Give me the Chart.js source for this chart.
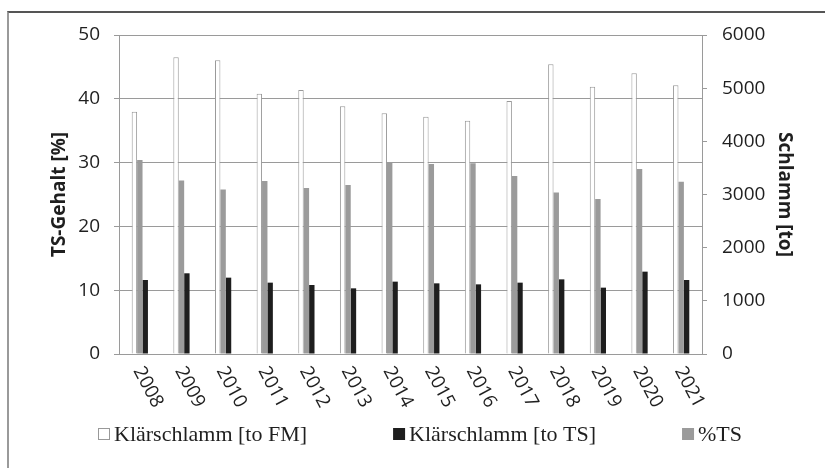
<!DOCTYPE html>
<html>
<head>
<meta charset="utf-8">
<script src="https://cdn.jsdelivr.net/npm/chart.js@4/dist/chart.umd.min.js"></script>
<style>
  html, body { margin: 0; padding: 0; background: #fff; }
  #wrap { position: relative; width: 825px; height: 468px; overflow: hidden; }
  #frame { position: absolute; left: 7px; top: 11px; width: 900px; height: 600px;
           border-top: 2px solid #555; border-left: 2px solid #9a9a9a; }
  canvas { position: absolute; left: 0; top: 0; }
</style>
</head>
<body>
<div id="wrap">
  <div id="frame"></div>
  <canvas id="c" width="825" height="468"></canvas>
</div>
<script>
// Jahre
const years = ['2008', '2009', '2010', '2011', '2012', '2013', '2014',
               '2015', '2016', '2017', '2018', '2019', '2020', '2021'];

// Klärschlamm Frischmasse [to]
const sludgeFM = [4557, 5580, 5524, 4896, 4965, 4659, 4527,
                  4463, 4388, 4758, 5448, 5027, 5279, 5054];

// Klärschlamm Trockensubstanz [to]
const sludgeTS = [1392, 1518, 1436, 1342, 1298, 1235, 1361,
                  1329, 1310, 1342, 1404, 1248, 1549, 1392];

// TS-Gehalt [%]
const dryMatterPct = [30.4, 27.2, 25.8, 27.1, 26.0, 26.5, 30.1,
                      29.8, 29.9, 27.9, 25.3, 24.3, 29.0, 27.0];

// Achsenbereiche
const pctTicks = [0, 10, 20, 30, 40, 50];
const tonTicks = [0, 1000, 2000, 3000, 4000, 5000, 6000];

const SANS = "'Open Sans', 'DejaVu Sans', sans-serif";
const SERIF = "'Liberation Serif', 'DejaVu Serif', serif";
const GRID = '#9a9a9a';
const INK = '#1f1f1f';

Chart.defaults.font.family = SANS;

// Jahreszahlen schräg nach rechts unten unter der Achse
const yearLabels = {
  id: 'yearLabels',
  afterDraw(chart) {
    const ctx = chart.ctx;
    const xs = chart.scales.x;
    const base = chart.chartArea.bottom;
    ctx.save();
    ctx.fillStyle = INK;
    ctx.font = '19px ' + SANS;
    ctx.textAlign = 'left';
    ctx.textBaseline = 'middle';
    chart.data.labels.forEach((lab, i) => {
      const x = xs.getPixelForTick(i);
      ctx.save();
      ctx.translate(x - 2, base + 14);
      ctx.rotate(62 * Math.PI / 180);
      ctx.fillText(lab, 0, 0);
      ctx.restore();
    });
    ctx.restore();
  }
};

// Legende in einer Zeile unter dem Diagramm
const legendRow = {
  id: 'legendRow',
  afterDraw(chart) {
    const ctx = chart.ctx;
    const ds = chart.data.datasets;
    const order = [0, 2, 1];
    let x = 98;
    const cy = 434;
    ctx.save();
    ctx.font = '22px ' + SERIF;
    ctx.textBaseline = 'middle';
    ctx.textAlign = 'left';
    order.forEach(k => {
      const d = ds[k];
      ctx.fillStyle = d.backgroundColor;
      ctx.fillRect(x, cy - 6, 12, 12);
      if (d.borderWidth) {
        ctx.strokeStyle = d.borderColor;
        ctx.lineWidth = 1;
        ctx.strokeRect(x + 0.5, cy - 5.5, 11, 11);
      }
      ctx.fillStyle = INK;
      ctx.fillText(d.label, x + 16, cy + 1);
      x += 16 + ctx.measureText(d.label).width + 86;
    });
    ctx.restore();
  }
};

new Chart(document.getElementById('c'), {
  type: 'bar',
  data: {
    labels: years,
    datasets: [
      { label: 'Klärschlamm [to FM]', data: sludgeFM, yAxisID: 'yR',
        backgroundColor: '#ffffff', borderColor: '#999999', borderWidth: 1 },
      { label: '%TS', data: dryMatterPct, yAxisID: 'yL',
        backgroundColor: '#9b9b9b', borderWidth: 0 },
      { label: 'Klärschlamm [to TS]', data: sludgeTS, yAxisID: 'yR',
        backgroundColor: '#1e1e1e', borderWidth: 0 }
    ]
  },
  options: {
    responsive: false,
    animation: false,
    datasets: { bar: { categoryPercentage: 0.39, barPercentage: 1.0 } },
    layout: { padding: { top: 35, left: 0, right: 0, bottom: 0 } },
    plugins: { legend: { display: false }, tooltip: { enabled: false } },
    scales: {
      x: {
        grid: { display: false },
        border: { display: true, color: GRID },
        ticks: { display: false },
        afterFit: s => { s.height = 114; }
      },
      yL: {
        position: 'left',
        min: pctTicks[0], max: pctTicks[pctTicks.length - 1],
        ticks: { stepSize: pctTicks[1] - pctTicks[0], padding: 14, color: INK, font: { size: 19 },
                 callback: v => String(v) },
        grid: { color: GRID, tickLength: 5 },
        border: { color: GRID },
        title: { display: true, text: 'TS-Gehalt [%]', color: INK,
                 font: { size: 19, weight: 'bold' }, padding: { top: 48, bottom: 0 } },
        afterFit: s => { s.width = 119; }
      },
      yR: {
        position: 'right',
        min: tonTicks[0], max: tonTicks[tonTicks.length - 1],
        ticks: { stepSize: tonTicks[1] - tonTicks[0], padding: 15, color: INK, font: { size: 19 },
                 callback: v => String(v) },
        grid: { drawOnChartArea: false, color: GRID, tickLength: 5 },
        border: { color: GRID },
        title: { display: true, text: 'Schlamm [to]', color: INK,
                 font: { size: 19, weight: 'bold' }, padding: { top: 29, bottom: 0 } },
        afterFit: s => { s.width = 123; }
      }
    }
  },
  plugins: [yearLabels, legendRow]
});
</script>
</body>
</html>
